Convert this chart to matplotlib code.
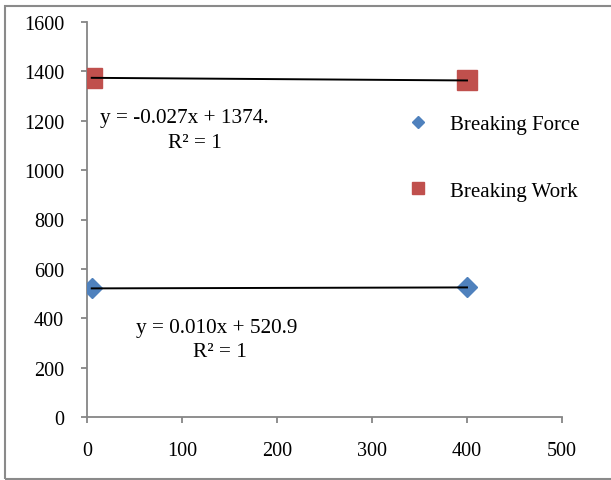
import matplotlib
matplotlib.use("Agg")
import matplotlib.pyplot as plt
from matplotlib.patches import Rectangle

plt.rcParams['font.family'] = ['Liberation Serif', 'DejaVu Serif']

x_vals = [5, 400]
force = [520.95, 524.9]
work = [1373.9, 1363.2]
force_fit = (0.010, 520.9)
work_fit = (-0.027, 1374.0)
x_ticks = [0, 100, 200, 300, 400, 500]
y_ticks = [0, 200, 400, 600, 800, 1000, 1200, 1400, 1600]

fig = plt.figure(figsize=(6.11, 4.81), dpi=100)
fig.patches.append(Rectangle((5/611, 1/481), 1.2, 473/481, transform=fig.transFigure,
                             fill=False, edgecolor='#8a8a8a', linewidth=1.5))
ax = fig.add_axes([87/611, 63/481, 475/611, 395/481])

ax.plot(x_vals, force, linestyle='none', marker='D', markersize=10,
        color='#4F81BD', label='Breaking Force', zorder=3)
ax.plot(x_vals, work, linestyle='none', marker='s', markersize=14,
        color='#C0504D', label='Breaking Work', zorder=3)

for (m, b) in (force_fit, work_fit):
    xs = [x_vals[0], x_vals[-1]]
    ax.plot(xs, [m * xx + b for xx in xs], color='black', linewidth=1.4, zorder=4)

ax.set_xlim(0, 500)
ax.set_ylim(0, 1600)
ax.set_xticks(x_ticks)
ax.set_yticks(y_ticks)
for s in ('top', 'right'):
    ax.spines[s].set_visible(False)
for s in ('left', 'bottom'):
    ax.spines[s].set_color('#868686')
    ax.spines[s].set_linewidth(1.3)
ax.tick_params(axis='both', colors='#868686', labelcolor='black', labelsize=14.5,
               length=4.5, width=1.3, direction='out')
ax.tick_params(axis='x', pad=13)
ax.tick_params(axis='y', pad=12)

ax.text(0.028, 0.758, 'y = -0.027x + 1374.', transform=ax.transAxes, fontsize=15.3,
        ha='left', va='center')
ax.text(0.228, 0.695, 'R² = 1', transform=ax.transAxes, fontsize=15.3,
        ha='center', va='center')
ax.text(0.103, 0.226, 'y = 0.010x + 520.9', transform=ax.transAxes, fontsize=15.3,
        ha='left', va='center')
ax.text(0.280, 0.166, 'R² = 1', transform=ax.transAxes, fontsize=15.3,
        ha='center', va='center')

leg = ax.legend(loc='upper left', bbox_to_anchor=(0.658, 0.786), frameon=False,
                fontsize=15, labelspacing=2.24, handlelength=1.0, handletextpad=1.04,
                borderaxespad=0, markerscale=0.62)

fig.savefig('out.png', dpi=100)
